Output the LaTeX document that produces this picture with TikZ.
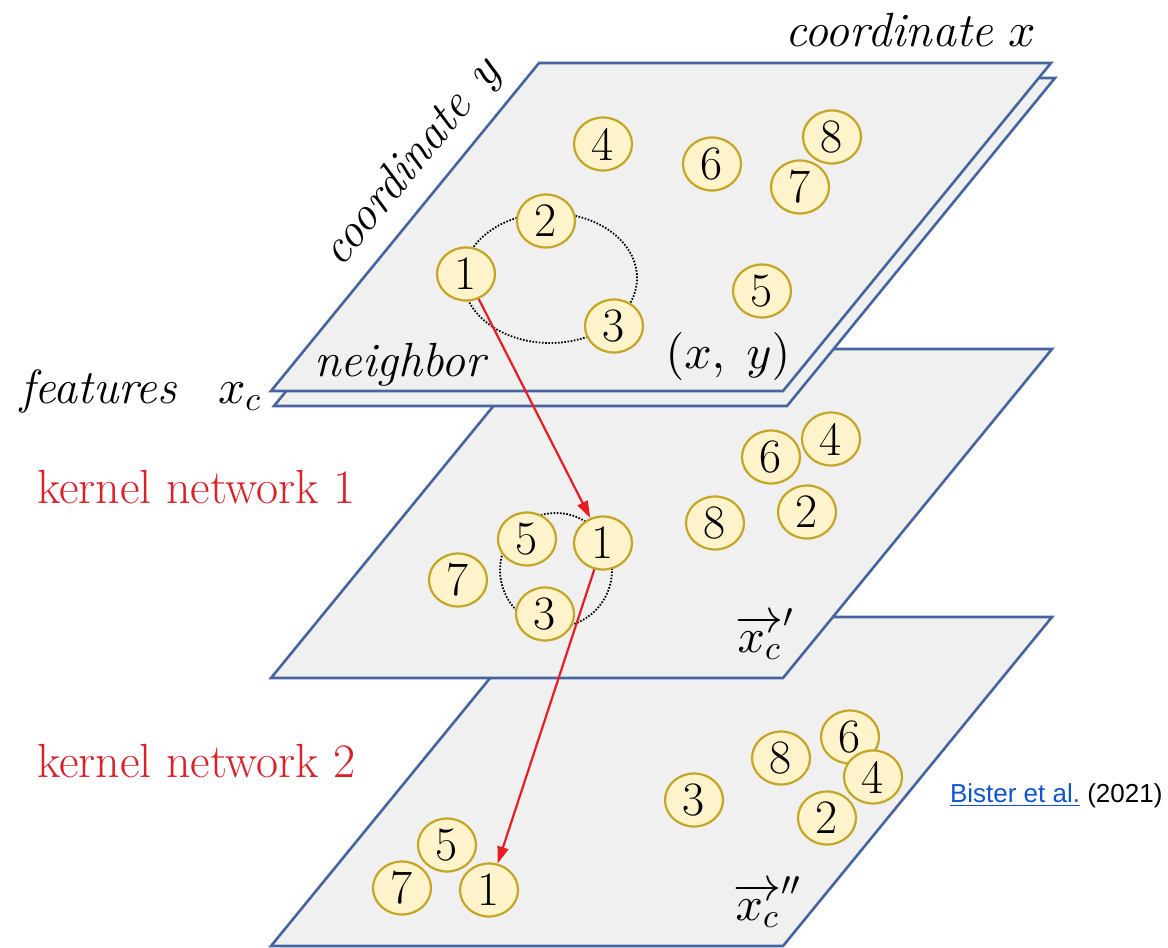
\documentclass[tikz,border=0pt]{standalone}
\usepackage{fontspec}
\newfontfamily\arialfont{Liberation Sans}
\DeclareFontShape{OML}{cmm}{m}{it}{<->cmmi10}{}
\DeclareFontShape{OMS}{cmsy}{m}{n}{<->cmsy10}{}
\DeclareFontShape{OMX}{cmex}{m}{n}{<->cmex10}{}
\DeclareFontShape{OT1}{cmr}{m}{n}{<->cmr10}{}
\DeclareMathSizes{48}{48}{34}{24}
\usetikzlibrary{arrows.meta,shapes.geometric}
\definecolor{planefill}{RGB}{240,240,240}
\definecolor{planeedge}{RGB}{70,100,160}
\definecolor{ballfill}{RGB}{255,243,204}
\definecolor{balledge}{RGB}{196,166,36}
\definecolor{arrowred}{RGB}{232,28,36}
\definecolor{kred}{RGB}{218,32,40}
\definecolor{linkblue}{RGB}{17,85,204}
\begin{document}
\begin{tikzpicture}[x=1pt,y=-1pt,
  font=\fontsize{48}{58}\selectfont,
  plane/.style={fill=planefill,draw=planeedge,line width=2.6pt},
  ball/.style={ellipse,draw=balledge,fill=ballfill,line width=2.2pt,
    minimum width=58pt,minimum height=53pt,inner sep=0pt},
  dotline/.style={draw=black,line width=1.8pt,dash pattern=on 1.6pt off 1.6pt},
  redarrow/.style={draw=arrowred,line width=2.2pt,
    -{Triangle[length=17pt,width=11pt]}},
  lbl/.style={inner sep=0pt,outer sep=0pt}]
\useasboundingbox (0,0) rectangle (1168,948);
\fill[white] (0,0) rectangle (1168,948);

% planes (bottom to top)
\filldraw[plane] (271,946) -- (783,946) -- (1052,617) -- (540,617) -- cycle;
\filldraw[plane] (271,678) -- (783,678) -- (1052,349) -- (540,349) -- cycle;
\filldraw[plane] (274,406) -- (787,406) -- (1055,78) -- (543,78) -- cycle;
\filldraw[plane] (271,391) -- (783,391) -- (1051,63) -- (539,63) -- cycle;

% neighbourhood rings
\draw[dotline] (550,278) ellipse [x radius=87pt, y radius=65pt];
\draw[dotline] (556,570) ellipse [x radius=56pt, y radius=57pt];

% top plane nodes
\node[ball] (t4) at (603,144) {4};
\node[ball] (t6) at (712,164) {6};
\node[ball] (t8) at (832,137) {8};
\node[ball] (t7) at (800,187) {7};
\node[ball] (t2) at (546,221) {2};
\node[ball] (t1) at (466,274) {1};
\node[ball] (t3) at (614,326) {3};
\node[ball] (t5) at (762,291) {5};

% middle plane nodes
\node[ball] (m6) at (771,457) {6};
\node[ball] (m4) at (831,439) {4};
\node[ball] (m2) at (807,512) {2};
\node[ball] (m8) at (715,523) {8};
\node[ball] (m5) at (527,539) {5};
\node[ball] (m1) at (603,543) {1};
\node[ball] (m7) at (458,580) {7};
\node[ball] (m3) at (545,614) {3};

% bottom plane nodes
\node[ball] (b6) at (850,737) {6};
\node[ball] (b8) at (781,758) {8};
\node[ball] (b4) at (873,777) {4};
\node[ball] (b3) at (694,800) {3};
\node[ball] (b2) at (827,818) {2};
\node[ball] (b5) at (447,845) {5};
\node[ball] (b7) at (402,888) {7};
\node[ball] (b1) at (489,890) {1};

% red arrows
\draw[redarrow] (t1) -- (m1);
\draw[redarrow] (m1) -- (b1);

% labels
\node[lbl,anchor=base west] (cx) at (785,46) {\textit{coordinate} $x$};
\node[lbl,rotate=50.75,anchor=base west] (cy) at (341,268) {\textit{coordinate}\, $y$};
\node[lbl,anchor=base west] (nb) at (314,376) {\textit{neighbor}};
\node[lbl] (xy) at (728,356) {$(x,\;y)$};
\node[lbl,anchor=base west] (ft) at (20,403) {\textit{features}};
\node[lbl,anchor=base west] (xc) at (218,403) {$x_c$};
\node[lbl,anchor=base west,text=kred] (k1) at (37,503) {kernel network 1};
\node[lbl,anchor=base west,text=kred] (k2) at (37,777) {kernel network 2};
\node[lbl,anchor=base west] (xp) at (735,652) {$\overrightarrow{x_c}'$};
\node[lbl,anchor=base west] (xpp) at (733,920) {$\overrightarrow{x_c}''$};
\node[lbl,anchor=base west,font=\arialfont\fontsize{26}{30}\selectfont] (ref) at (950,802)
  {\textcolor{linkblue}{\underline{Bister et al.}} (2021)};
\end{tikzpicture}
\end{document}
